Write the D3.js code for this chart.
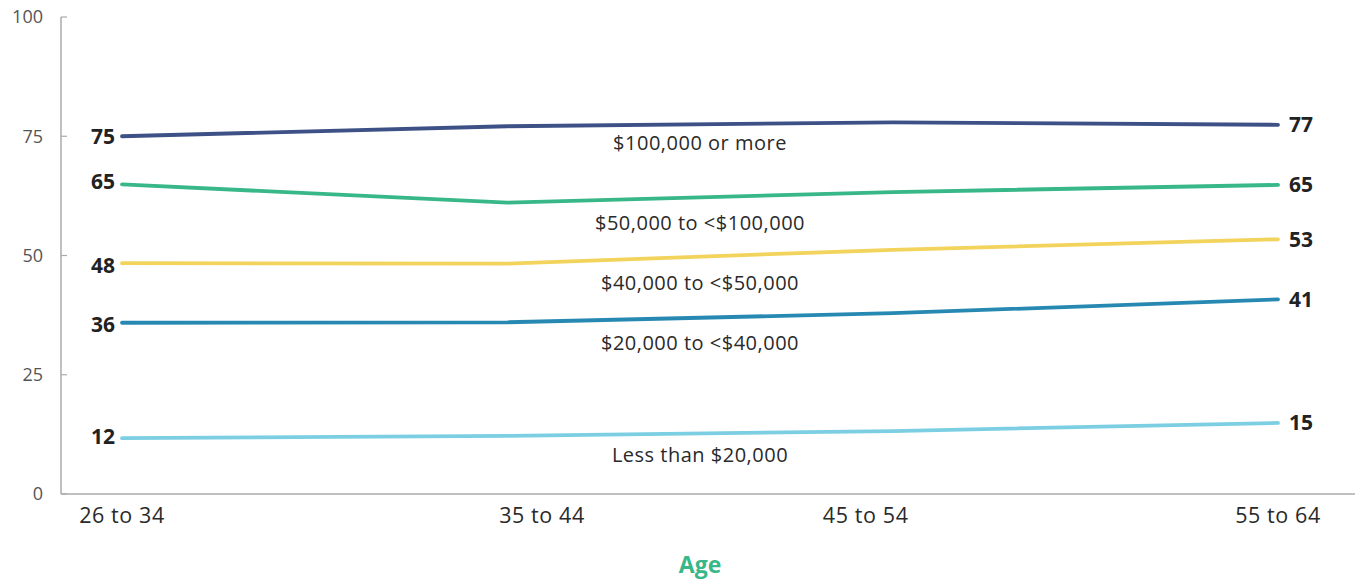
<!DOCTYPE html>
<html><head><meta charset="utf-8">
<script src="https://cdn.jsdelivr.net/npm/d3@7"></script>
<style>
body{margin:0;background:#fff;}
text{font-family:"Open Sans","Noto Sans",sans-serif;}
</style></head>
<body><svg id="chart" width="1355" height="581"></svg>
<script>
const categories = ["26 to 34","35 to 44","45 to 54","55 to 64"];
const seriesNames = ["$100,000 or more","$50,000 to <$100,000","$40,000 to <$50,000","$20,000 to <$40,000","Less than $20,000"];
const incomeHigh = [75, 77.1, 77.9, 77.4];
const income50to100 = [64.9, 61.1, 63.3, 64.8];
const income40to50 = [48.4, 48.3, 51.2, 53.4];
const income20to40 = [35.9, 36.0, 37.9, 40.8];
const incomeLow = [11.7, 12.2, 13.2, 14.9];
const startLabels = ["75","65","48","36","12"];
const endLabels = ["77","65","53","41","15"];
const yTicks = [0,25,50,75,100];
const colors = ["#3d5186","#38b788","#f2d35b","#2789b2","#7ccfe2"];
const xTitle = "Age";

// layout (not data)
const tickPos = [0, 1.09, 1.93, 3];
const nameOffsets = [19, 26, 26, 25, 22];
const startLabelDy = [0, -3, 3, 2, -2];

const series = [incomeHigh, income50to100, income40to50, income20to40, incomeLow];
const svg = d3.select("#chart");
const x = d3.scaleLinear().domain([0,3]).range([122,1278]);
const y = d3.scaleLinear().domain([0,100]).range([494,17]);

svg.append("line").attr("x1",61).attr("x2",61).attr("y1",y(100)).attr("y2",y(0)).attr("stroke","#ababab").attr("stroke-width",1.5);
svg.append("line").attr("x1",61).attr("x2",1355).attr("y1",y(0)).attr("y2",y(0)).attr("stroke","#ababab").attr("stroke-width",1.5);
yTicks.forEach(t=>{
  svg.append("line").attr("x1",61).attr("x2",67).attr("y1",y(t)).attr("y2",y(t)).attr("stroke","#ababab").attr("stroke-width",1.2);
  svg.append("text").attr("x",43).attr("y",y(t)).attr("dy","0.35em").attr("text-anchor","end")
    .attr("font-size",18).attr("fill","#555").text(t);
});
categories.forEach((c,i)=>{
  svg.append("text").attr("x",x(tickPos[i])).attr("y",523).attr("text-anchor","middle")
    .attr("font-size",21.5).attr("fill","#2a2a2a").attr("letter-spacing","0.6").text(c);
});
svg.append("text").attr("x",700).attr("y",573).attr("text-anchor","middle")
  .attr("font-size",23).attr("font-weight","bold").attr("fill","#38b788").text(xTitle);

const line = d3.line().x((d,i)=>x(i)).y(d=>y(d));
series.forEach((s,k)=>{
  svg.append("path").attr("d",line(s)).attr("fill","none").attr("stroke",colors[k])
    .attr("stroke-width",3.8).attr("stroke-linecap","round").attr("stroke-linejoin","round");
  svg.append("text").attr("x",x(0)-7).attr("y",y(s[0])+startLabelDy[k]).attr("dy","0.35em")
    .attr("text-anchor","end").attr("font-size",21).attr("font-weight","bold").attr("fill","#222").text(startLabels[k]);
  svg.append("text").attr("x",x(3)+11).attr("y",y(s[3])).attr("dy","0.35em")
    .attr("text-anchor","start").attr("font-size",21).attr("font-weight","bold").attr("fill","#222").text(endLabels[k]);
  const xm = 700, t = x.invert(xm), i0 = Math.floor(t), f = t - i0;
  const vm = s[i0] + (s[i0+1]-s[i0])*f;
  svg.append("text").attr("x",xm).attr("y",y(vm)+nameOffsets[k]).attr("dy","0.35em")
    .attr("text-anchor","middle").attr("font-size",20).attr("fill","#2a2a2a").attr("letter-spacing","0.5").text(seriesNames[k]);
});
</script></body></html>
